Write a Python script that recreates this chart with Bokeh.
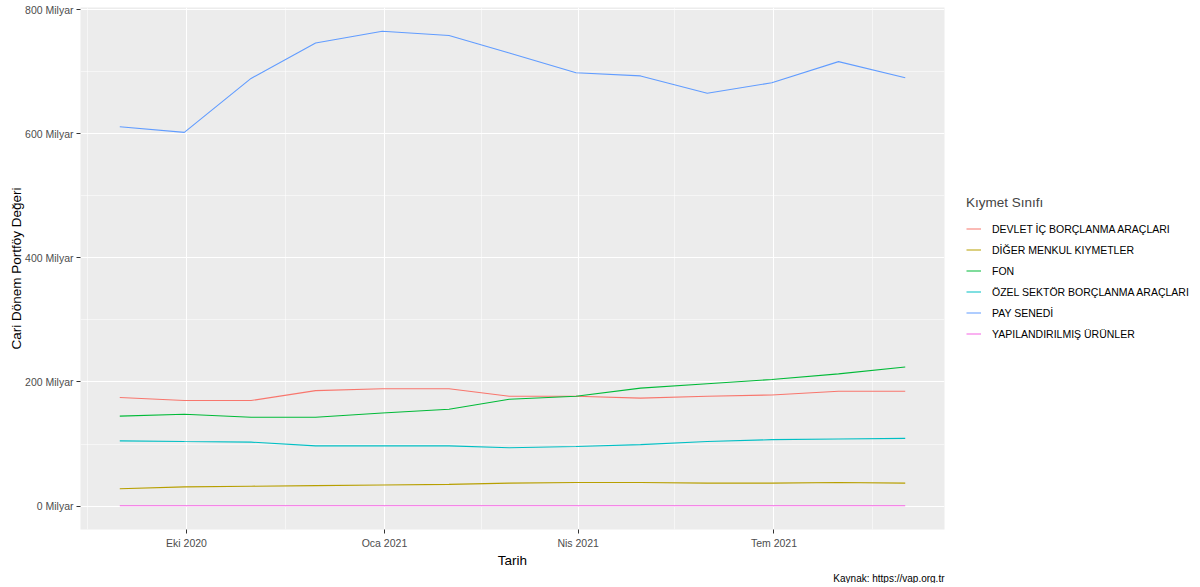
import pandas as pd
from bokeh.plotting import figure
from bokeh.models import Range1d, FixedTicker, Legend, LegendItem, Title
from bokeh.embed import file_html
from bokeh.resources import INLINE

# ---------------- data ----------------
dates = ["2020-08-31", "2020-09-30", "2020-10-31", "2020-11-30", "2020-12-31",
         "2021-01-31", "2021-02-28", "2021-03-31", "2021-04-30", "2021-05-31",
         "2021-06-30", "2021-07-31", "2021-08-31"]

series_names = ["DEVLET İÇ BORÇLANMA ARAÇLARI", "DİĞER MENKUL KIYMETLER", "FON",
                "ÖZEL SEKTÖR BORÇLANMA ARAÇLARI", "PAY SENEDİ", "YAPILANDIRILMIŞ ÜRÜNLER"]

# values in Milyar TL
devlet = [175, 170, 170, 186, 189, 189, 177, 177, 174, 177, 179, 185, 185]
diger = [28, 31, 32, 33, 34, 35, 37, 38, 38, 37, 37, 38, 37]
fon = [145, 148, 143, 143, 150, 156, 172, 177, 190, 197, 204, 213, 224]
ozel = [105, 104, 103, 97, 97, 97, 94, 96, 99, 104, 107, 108, 109]
pay = [611, 602, 689, 746, 765, 758, 730, 698, 693, 665, 682, 716, 690]
yapilandirilmis = [0.5, 0.5, 0.5, 0.5, 0.5, 0.5, 0.5, 0.5, 0.5, 0.5, 0.5, 0.5, 0.5]

series_values = [devlet, diger, fon, ozel, pay, yapilandirilmis]
colors = ["#F8766D", "#B79F00", "#00BA38", "#00BFC4", "#619CFF", "#F564E3"]

x_tick_dates = ["2020-10-01", "2021-01-01", "2021-04-01", "2021-07-01"]
x_tick_labels = ["Eki 2020", "Oca 2021", "Nis 2021", "Tem 2021"]
x_minor_dates = ["2020-08-16", "2020-11-16", "2021-02-15", "2021-05-16", "2021-08-16"]

y_ticks = [0, 200, 400, 600, 800]
y_tick_labels = ["0 Milyar", "200 Milyar", "400 Milyar", "600 Milyar", "800 Milyar"]
y_minor = [100, 300, 500, 700]

# ---------------- helpers ----------------
def ms(d):
    return int(pd.Timestamp(d).value // 10**6)

x = pd.to_datetime(dates)
FONT = "Liberation Sans"

xmin, xmax = ms(dates[0]), ms(dates[-1])
xpad = (xmax - xmin) * 0.05
all_vals = [v for s in series_values for v in s]
ymin, ymax = min(all_vals), max(all_vals)
ypad = (ymax - ymin) * 0.05

p = figure(
    frame_width=864, frame_height=522,
    x_axis_type="datetime",
    x_range=Range1d(xmin - xpad, xmax + xpad),
    y_range=Range1d(ymin - ypad, ymax + ypad),
    output_backend="svg", toolbar_location=None,
    min_border_left=80, min_border_right=248, min_border_top=7, min_border_bottom=0,
    background_fill_color="#ECECEC", border_fill_color="white",
    outline_line_color=None,
)

renderers = []
for vals, col in zip(series_values, colors):
    r = p.line(x, vals, line_color=col, line_width=1.1)
    renderers.append(r)

# axes
xt = [ms(d) for d in x_tick_dates]
xm = [ms(d) for d in x_minor_dates]
p.xaxis.ticker = FixedTicker(ticks=xt, minor_ticks=xm)
p.xaxis.major_label_overrides = {t: lab for t, lab in zip(xt, x_tick_labels)}
p.yaxis.ticker = FixedTicker(ticks=y_ticks, minor_ticks=y_minor)
p.yaxis.major_label_overrides = {t: lab for t, lab in zip(y_ticks, y_tick_labels)}

for ax in (p.xaxis, p.yaxis):
    ax.axis_line_color = None
    ax.major_tick_in = 0
    ax.major_tick_out = 4
    ax.major_tick_line_color = "#333333"
    ax.major_tick_line_width = 1
    ax.minor_tick_line_color = None
    ax.major_label_text_font = FONT
    ax.major_label_text_font_size = "10.5px"
    ax.major_label_text_color = "#4D4D4D"
    ax.major_label_standoff = 3
    ax.axis_label_text_font = FONT
    ax.axis_label_text_font_size = "13.5px"
    ax.axis_label_text_font_style = "normal"
    ax.axis_label_text_color = "black"

p.xaxis.axis_label = "Tarih"
p.xaxis.axis_label_standoff = 1
p.yaxis.axis_label = "Cari Dönem Portföy Değeri"
p.yaxis.axis_label_standoff = -2

# grids
p.xgrid.ticker = p.xaxis.ticker
p.ygrid.ticker = p.yaxis.ticker
for g in (p.xgrid, p.ygrid):
    g.grid_line_color = "white"
    g.grid_line_width = 1.1
    g.minor_grid_line_color = "white"
    g.minor_grid_line_width = 0.55

# legend
items = [LegendItem(label=n, renderers=[r]) for n, r in zip(series_names, renderers)]
legend = Legend(
    items=items, location="center_left",
    title="Kıymet Sınıfı", title_text_font=FONT, title_text_font_size="13.5px",
    title_text_font_style="normal", title_standoff=11,
    label_text_font=FONT, label_text_font_size="10.5px", label_text_color="black",
    glyph_width=15, glyph_height=16, label_height=16, label_standoff=11, spacing=5,
    border_line_color=None, background_fill_alpha=0, margin=22, padding=2,
)
p.add_layout(legend, "right")

# caption
cap = Title(text="Kaynak: https://vap.org.tr", align="right", text_font=FONT,
            text_font_size="10px", text_font_style="normal", text_color="black",
            standoff=0, offset=0)
p.add_layout(cap, "below")

open("out.html", "w").write(file_html(p, INLINE))
